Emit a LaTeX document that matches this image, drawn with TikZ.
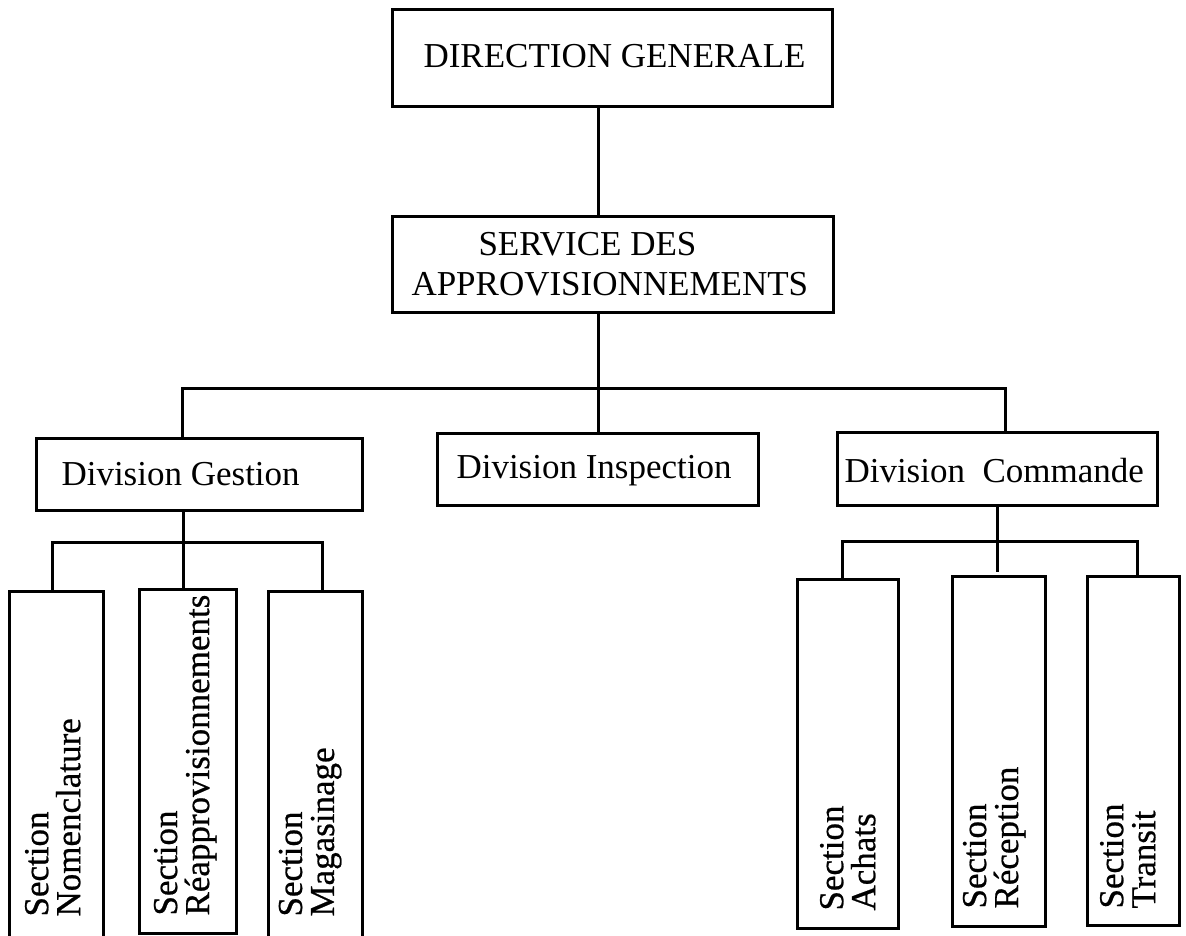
\documentclass[tikz,border=0pt]{standalone}
\usepackage{fontspec}
\setmainfont{Liberation Serif}
\newfontfamily\secfont{Liberation Serif}[FakeBold=0.6]
\usetikzlibrary{fit}
\begin{document}
\begin{tikzpicture}[x=0.5pt,y=-0.5pt,line width=1.5pt,
  boxnode/.style={draw,rectangle,inner sep=0pt,line width=1.5pt},
  htext/.style={anchor=base west,inner sep=0pt,font=\fontsize{17.5}{20}\selectfont},
  vtext/.style={rotate=90,anchor=south west,inner sep=0pt,align=left,font=\secfont\fontsize{17.5}{16}\selectfont},
  link/.style={line width=1.5pt}]
\clip (0,0) rectangle (1186,935);
\fill[white] (0,0) rectangle (1186,935);
% top boxes
\node[boxnode,fit={(392,10) (832,107)}] (dg) {};
\node[htext] (dgt) at (422,68) {DIRECTION GENERALE};
\node[boxnode,fit={(392,217) (833,312)}] (sa) {};
\node[htext] (sat1) at (477,256) {SERVICE DES};
\node[htext] (sat2) at (410,295) {APPROVISIONNEMENTS};
% divisions
\node[boxnode,fit={(36,438) (362,510)}] (gest) {};
\node[htext] (gestt) at (60,485) {Division Gestion};
\node[boxnode,fit={(437,433) (758,505)}] (insp) {};
\node[htext] (inspt) at (455,478) {Division Inspection};
\node[boxnode,fit={(837,432) (1157,505)}] (comm) {};
\node[htext] (commt) at (843,482) {Division\ \ Commande};
% sections (Gestion)
\node[boxnode,fit={(9,591) (103,948)}] (nom) {};
\node[vtext] (nomt) at (82,918) {Section\\Nomenclature};
\node[boxnode,fit={(139,589) (236,933)}] (reap) {};
\node[vtext] (reapt) at (218,917) {Section\\Réapprovisionnements};
\node[boxnode,fit={(268,591) (362,948)}] (mag) {};
\node[vtext] (magt) at (343,918) {Section\\Magasinage};
% sections (Commande)
\node[boxnode,fit={(797,579) (898,928)}] (ach) {};
\node[vtext] (acht) at (877,912) {Section\\Achats};
\node[boxnode,fit={(952,576) (1045,926)}] (rec) {};
\node[vtext] (rect) at (1027,910) {Section\\Réception};
\node[boxnode,fit={(1087,576) (1179,925)}] (tra) {};
\node[vtext] (trat) at (1157,910) {Section\\Transit};
% junction coordinates
\coordinate (bus) at (598,388);
\coordinate (busL) at (182,388);
\coordinate (busR) at (1005,388);
\coordinate (gM) at (183,542);
\coordinate (gL) at (52,542);
\coordinate (gR) at (322,542);
\coordinate (cM) at (997,541);
\coordinate (cL) at (842,541);
\coordinate (cR) at (1137,541);
\coordinate (cMend) at (997,572);
% connectors
\draw[link] (bus |- dg.south) -- (bus |- sa.north);
\draw[link] (bus |- sa.south) -- (bus |- insp.north);
\draw[link] (busL |- gest.north) -- (busL) -- (busR) -- (busR |- comm.north);
\draw[link] (gM |- gest.south) -- (gM |- reap.north);
\draw[link] (gL |- nom.north) -- (gL) -- (gR) -- (gR |- mag.north);
\draw[link] (cM |- comm.south) -- (cMend);
\draw[link] (cL |- ach.north) -- (cL) -- (cR) -- (cR |- tra.north);
\end{tikzpicture}
\end{document}
